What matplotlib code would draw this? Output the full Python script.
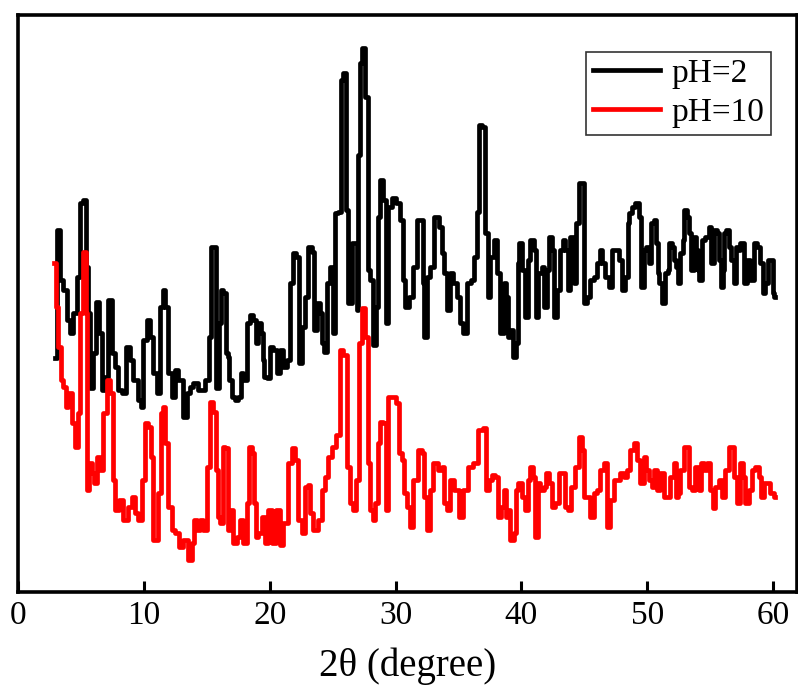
import matplotlib.pyplot as plt

# XRD patterns, intensity in arbitrary units
two_theta_ph2 = [2.94, 3.20, 3.47, 3.74, 4.00, 4.27, 4.53, 4.80, 5.06, 5.27, 5.46, 5.59, 5.86, 6.12, 6.33, 6.60,
                 6.78, 7.05, 7.31, 7.58, 7.84, 8.11, 8.37, 8.77, 9.04, 9.30, 9.70, 9.83, 10.10, 10.36, 10.63,
                 10.89, 11.15, 11.42, 11.61, 11.82, 12.08, 12.35, 12.61, 12.88, 13.28, 13.54, 13.81, 14.07,
                 14.60, 15.13, 15.26, 15.40, 15.66, 15.87, 16.06, 16.19, 16.45, 16.59, 16.72, 16.85, 17.12,
                 17.38, 17.65, 17.78, 18.04, 18.31, 18.57, 18.84, 18.97, 19.24, 19.37, 19.50, 19.63, 19.90,
                 20.17, 20.43, 20.69, 20.96, 21.22, 21.49, 21.76, 21.94, 22.23, 22.42, 22.68, 22.95, 23.21,
                 23.47, 23.61, 23.87, 24.09, 24.27, 24.40, 24.67, 24.94, 25.06, 25.33, 25.60, 25.73, 25.99,
                 26.13, 26.39, 26.66, 26.92, 27.00, 27.11, 27.19, 27.45, 27.72, 27.85, 28.11, 28.32, 28.51,
                 28.64, 28.91, 29.17, 29.31, 29.57, 29.83, 30.23, 30.50, 30.63, 30.90, 31.29, 31.56, 31.82,
                 32.09, 32.22, 32.35, 32.62, 32.88, 33.28, 33.55, 33.81, 33.94, 34.21, 34.47, 34.74, 35.00,
                 35.27, 35.53, 35.80, 36.19, 36.33, 36.59, 36.72, 36.99, 37.26, 37.39, 37.65, 37.92, 38.18,
                 38.45, 38.71, 38.85, 38.98, 39.24, 39.45, 39.64, 39.77, 39.90, 40.17, 40.43, 40.56, 40.83,
                 41.10, 41.23, 41.49, 41.76, 41.89, 42.15, 42.29, 42.55, 42.69, 42.95, 43.22, 43.35, 43.62,
                 43.75, 44.01, 44.28, 44.41, 44.67, 44.94, 45.07, 45.34, 45.60, 45.87, 46.13, 46.34, 46.53,
                 46.80, 47.06, 47.32, 47.59, 47.85, 48.12, 48.38, 48.51, 48.65, 48.91, 49.18, 49.44, 49.58,
                 49.84, 49.98, 50.24, 50.37, 50.64, 50.77, 50.90, 51.03, 51.30, 51.56, 51.69, 51.83, 52.09,
                 52.22, 52.36, 52.49, 52.76, 52.89, 53.02, 53.28, 53.42, 53.55, 53.82, 53.95, 54.08, 54.21,
                 54.48, 54.74, 55.01, 55.14, 55.41, 55.67, 55.80, 55.94, 56.07, 56.20, 56.33, 56.60, 56.73,
                 56.99, 57.13, 57.26, 57.53, 57.79, 58.05, 58.32, 58.59, 58.85, 59.12, 59.25, 59.52, 59.65,
                 59.91, 60.04, 60.17]
counts_ph2 = [234, 362, 312, 302, 272, 259, 279, 315, 389, 392, 325, 279, 204, 239, 290, 259,
              202, 215, 292, 239, 225, 202, 199, 245, 232, 212, 192, 185, 252, 272, 255,
              219, 199, 285, 302, 285, 219, 195, 222, 212, 175, 199, 205, 209,
              202, 212, 255, 345, 345, 204, 269, 302, 299, 239, 235, 212, 195,
              192, 195, 219, 212, 269, 277, 272, 249, 269, 259, 232, 215, 214,
              245, 242, 219, 242, 225, 232, 309, 339, 335, 229, 265, 295, 345,
              340, 262, 289, 279, 249, 240, 309, 325, 259, 379, 380, 512, 519,
              382, 289, 349, 349, 282, 437, 529, 544, 495, 322, 312, 247, 285,
              375, 412, 392, 269, 385, 394, 389, 372, 312, 285, 295, 325, 372,
              372, 309, 255, 315, 325, 375, 365, 339, 319, 282, 319, 309, 295,
              269, 259, 309, 312, 335, 380, 467, 465, 359, 295, 335, 352, 319,
              259, 309, 295, 255, 262, 235, 249, 329, 349, 322, 275, 332, 352,
              342, 275, 319, 325, 285, 322, 355, 342, 275, 302, 342, 352, 342,
              302, 355, 309, 369, 409, 409, 289, 295, 312, 315, 329, 342, 329,
              315, 305, 342, 342, 332, 302, 315, 369, 379, 385, 389, 375, 305,
              342, 345, 329, 369, 372, 349, 319, 309, 289, 319, 322, 349, 345,
              332, 325, 309, 339, 352, 382, 375, 359, 322, 355, 342, 322, 312,
              352, 355, 365, 329, 362, 359, 332, 305, 322, 359, 362, 345, 332,
              309, 345, 342, 349, 309, 332, 312, 349, 345, 329, 299, 309, 332,
              332, 299, 295]

two_theta_ph10 = [2.89, 3.07, 3.34, 3.47, 3.74, 3.87, 4.13, 4.40, 4.66, 4.80, 5.06, 5.27, 5.46, 5.54, 5.72,
                  5.99, 6.12, 6.39, 6.60, 6.92, 7.18, 7.45, 7.58, 7.84, 8.24, 8.51, 8.90, 9.17, 9.43, 9.70,
                  9.96, 10.23, 10.49, 10.63, 10.89, 11.29, 11.42, 11.61, 11.82, 12.08, 12.35, 12.61, 13.01,
                  13.28, 13.67, 13.94, 14.07, 14.33, 14.60, 14.86, 15.13, 15.34, 15.66, 15.79, 15.92, 16.19,
                  16.32, 16.59, 16.72, 16.99, 17.25, 17.51, 17.78, 18.04, 18.31, 18.44, 18.70, 18.84, 18.97,
                  19.24, 19.50, 19.77, 20.03, 20.30, 20.69, 20.96, 21.22, 21.62, 21.89, 22.15, 22.42, 22.68,
                  22.95, 23.13, 23.34, 23.61, 24.01, 24.27, 24.54, 24.80, 25.06, 25.46, 25.73, 25.99, 26.26,
                  26.52, 26.79, 27.00, 27.19, 27.45, 27.72, 27.85, 28.11, 28.24, 28.51, 28.64, 28.91, 29.17,
                  29.31, 29.57, 29.83, 30.23, 30.36, 30.63, 30.76, 31.03, 31.29, 31.56, 31.96, 32.22, 32.35,
                  32.62, 32.88, 33.15, 33.55, 33.81, 33.94, 34.21, 34.47, 34.87, 35.14, 35.53, 35.93, 36.33,
                  36.72, 37.12, 37.26, 37.52, 37.79, 38.05, 38.18, 38.58, 38.71, 38.85, 38.98, 39.24, 39.51,
                  39.64, 39.90, 40.17, 40.43, 40.56, 40.83, 40.96, 41.23, 41.36, 41.63, 41.89, 42.03, 42.29,
                  42.55, 42.82, 43.08, 43.35, 43.62, 43.75, 44.14, 44.41, 44.67, 44.94, 45.07, 45.34, 45.60,
                  45.87, 46.13, 46.40, 46.66, 46.92, 47.19, 47.46, 47.72, 47.99, 48.25, 48.51, 48.78, 49.05,
                  49.31, 49.58, 49.84, 49.98, 50.24, 50.50, 50.64, 50.90, 51.17, 51.43, 51.69, 51.96, 52.22,
                  52.36, 52.49, 52.76, 53.02, 53.23, 53.42, 53.68, 53.95, 54.21, 54.35, 54.61, 54.87, 55.14,
                  55.27, 55.54, 55.80, 56.07, 56.33, 56.60, 56.86, 56.99, 57.26, 57.53, 57.66, 57.92, 58.19,
                  58.45, 58.72, 58.98, 59.12, 59.38, 59.65, 59.91, 60.17]
counts_ph10 = [329, 285, 245, 212, 205, 185, 199, 169, 145, 179, 279, 340, 279, 102, 129,
               119, 109, 135, 122, 179, 212, 199, 112, 82, 92, 72, 85, 95, 79, 72,
               112, 169, 165, 135, 52, 99, 179, 185, 149, 85, 62, 59, 45,
               52, 32, 49, 72, 62, 72, 62, 125, 190, 180, 122, 75, 69,
               145, 144, 62, 82, 49, 55, 72, 49, 89, 145, 139, 89, 55,
               59, 75, 49, 82, 49, 82, 47, 69, 129, 144, 132, 72, 59,
               105, 107, 79, 62, 72, 102, 115, 135, 145, 157, 242, 237, 125,
               89, 82, 112, 249, 284, 255, 129, 82, 72, 89, 149, 170, 169,
               82, 195, 195, 189, 139, 132, 99, 85, 65, 112, 142, 139, 95,
               62, 102, 129, 122, 125, 89, 82, 112, 102, 75, 102, 125, 129,
               162, 164, 102, 112, 117, 115, 75, 85, 102, 75, 82, 52, 59,
               102, 109, 95, 82, 112, 125, 115, 55, 109, 102, 105, 119, 109,
               85, 89, 119, 119, 85, 82, 105, 125, 155, 142, 95, 95, 75,
               99, 102, 122, 129, 65, 92, 112, 112, 119, 115, 122, 142, 149,
               132, 109, 135, 122, 112, 105, 122, 102, 119, 95, 95, 115, 129,
               95, 99, 122, 145, 145, 105, 102, 125, 102, 129, 122, 129, 102,
               84, 105, 112, 95, 122, 145, 145, 115, 89, 129, 115, 89, 102,
               122, 125, 115, 95, 109, 109, 99, 95]

x_ticks = [0, 10, 20, 30, 40, 50, 60]

plt.rcParams['font.family'] = ['Liberation Serif', 'DejaVu Serif']

fig = plt.figure(figsize=(7.98, 6.99), dpi=100)
ax = fig.add_axes([0.0226, 0.1531, 0.9761, 0.8254])

ax.plot(two_theta_ph2, counts_ph2, color="black", lw=3.4, drawstyle="steps-mid", label="pH=2")
ax.plot(two_theta_ph10, counts_ph10, color="red", lw=3.4, drawstyle="steps-mid", label="pH=10")

ax.set_xlim(0, 61.9)
ax.set_ylim(0, 577)
ax.set_xticks(x_ticks)
ax.set_yticks([])
ax.tick_params(axis="x", direction="in", length=8, width=2.2, labelsize=24, pad=6)
for s in ax.spines.values():
    s.set_linewidth(2.6)
ax.set_xlabel("2θ (degree)", fontsize=28, labelpad=12)

leg = ax.legend(loc="upper right", bbox_to_anchor=(0.967, 0.936), borderaxespad=0,
                fontsize=24, frameon=True, fancybox=False, handlelength=2.0,
                handletextpad=0.36, borderpad=0.2, labelspacing=0.25)
leg.get_frame().set_edgecolor("black")
leg.get_frame().set_linewidth(1.2)
for line in leg.get_lines():
    line.set_linewidth(3.4)

fig.savefig("out.png", dpi=100)
